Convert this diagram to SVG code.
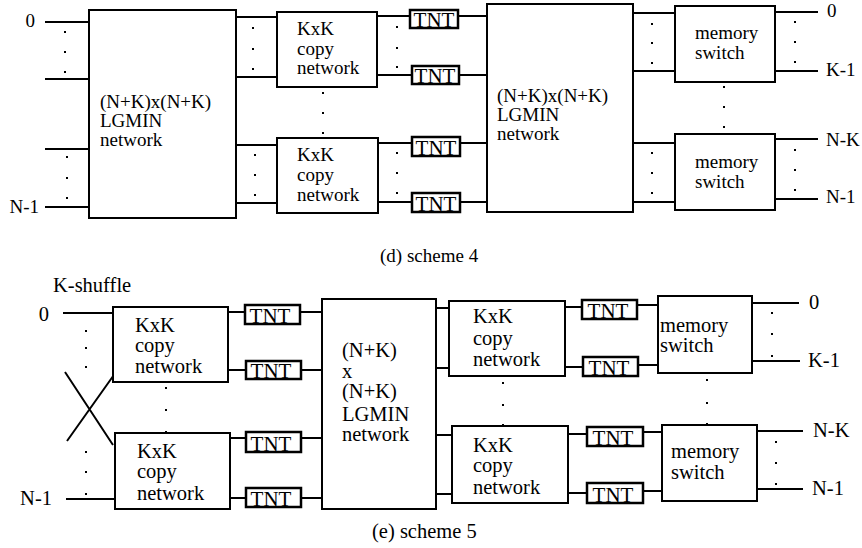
<svg xmlns="http://www.w3.org/2000/svg" width="862" height="548" viewBox="0 0 862 548">
<style>
.box{fill:#fff;stroke:#000;stroke-width:2}
.tnt{fill:#fff;stroke:#000;stroke-width:2.5}
.ln{stroke:#000;stroke-width:2;fill:none}
text{font-family:"Liberation Serif","Times New Roman",serif;fill:#000}
.a{font-size:19px}
.b{font-size:20.5px}
.tt{font-size:21px}
.dot{fill:#000}
</style>
<defs>
<g id="d3"><rect class="dot" x="-1" y="-1" width="2" height="2"/></g>
</defs>
<rect width="862" height="548" fill="#fff"/>

<!-- connectors -->
<g id="connectors" class="ln">
<!-- top scheme 4 -->
<path d="M45 22H89M45 79H89M45 149H89M45 207H89"/>
<path d="M236 17H277M236 77H277M236 145H277M236 203H277"/>
<path d="M377 16H410M377 75H412M378 143H412M378 202H412"/>
<path d="M458 16H487M459 75H487M460 143H487M460 202H487"/>
<path d="M633 13H675M633 71H675M633 143H675M633 202H675"/>
<path d="M775 12H818M775 71H818M775 139H818M775 199H818"/>
<!-- bottom scheme 5 -->
<path d="M63 313H113M66 499H115"/>
<path d="M65 372L113 445M67 441L116 372"/>
<path d="M228 312H245M228 370H246M230 438H246M230 498H246"/>
<path d="M300 312H322M301 370H322M301 438H322M301 498H322"/>
<path d="M432 308H453M432 368H453M432 435H456M432 494H456"/>
<path d="M562 307H582M562 367H583M565 434H587M565 493H587"/>
<path d="M637 305H661M638 365H662M643 432H665M643 491H665"/>
<path d="M752 303H799M752 361H800M754 431H803M754 489H803"/>
</g>

<!-- dots -->
<g id="dots">
<use href="#d3" x="65" y="32"/><use href="#d3" x="65" y="52"/><use href="#d3" x="65" y="72"/>
<use href="#d3" x="67" y="157"/><use href="#d3" x="67" y="178"/><use href="#d3" x="67" y="198"/>
<use href="#d3" x="253" y="28"/><use href="#d3" x="253" y="49"/><use href="#d3" x="253" y="69"/>
<use href="#d3" x="255" y="155"/><use href="#d3" x="255" y="175"/><use href="#d3" x="255" y="195"/>
<use href="#d3" x="323" y="93"/><use href="#d3" x="323" y="113"/><use href="#d3" x="323" y="133"/>
<use href="#d3" x="397" y="27"/><use href="#d3" x="397" y="48"/><use href="#d3" x="397" y="67"/>
<use href="#d3" x="397" y="153"/><use href="#d3" x="397" y="173"/><use href="#d3" x="397" y="193"/>
<use href="#d3" x="652" y="24"/><use href="#d3" x="652" y="43"/><use href="#d3" x="652" y="63"/>
<use href="#d3" x="652" y="153"/><use href="#d3" x="652" y="173"/><use href="#d3" x="652" y="193"/>
<use href="#d3" x="724" y="87"/><use href="#d3" x="724" y="107"/><use href="#d3" x="724" y="127"/>
<use href="#d3" x="795" y="22"/><use href="#d3" x="795" y="42"/><use href="#d3" x="795" y="62"/>
<use href="#d3" x="795" y="150"/><use href="#d3" x="795" y="170"/><use href="#d3" x="795" y="190"/>

<use href="#d3" x="86" y="331"/><use href="#d3" x="86" y="348"/><use href="#d3" x="86" y="367"/>
<use href="#d3" x="86" y="452"/><use href="#d3" x="86" y="472"/><use href="#d3" x="86" y="494"/>
<use href="#d3" x="166" y="388"/><use href="#d3" x="166" y="410"/><use href="#d3" x="166" y="432"/>
<use href="#d3" x="503" y="383"/><use href="#d3" x="503" y="405"/><use href="#d3" x="503" y="425"/>
<use href="#d3" x="707" y="380"/><use href="#d3" x="707" y="403"/><use href="#d3" x="707" y="424"/>
<use href="#d3" x="772" y="313"/><use href="#d3" x="772" y="334"/><use href="#d3" x="772" y="356"/>
<use href="#d3" x="776" y="442"/><use href="#d3" x="776" y="463"/><use href="#d3" x="776" y="484"/>
</g>

<!-- labels -->
<g id="labels-top" class="a">
<text x="35" y="27" text-anchor="end">0</text>
<text x="39" y="213" text-anchor="end">N-1</text>
<text x="827" y="17">0</text>
<text x="826" y="76">K-1</text>
<text x="826" y="146">N-K</text>
<text x="826" y="203">N-1</text>
<text x="380" y="262">(d) scheme 4</text>
</g>
<g id="labels-bottom" class="b">
<text x="53" y="292">K-shuffle</text>
<text x="49" y="321" text-anchor="end">0</text>
<text x="52" y="505" text-anchor="end">N-1</text>
<text x="809" y="309">0</text>
<text x="808" y="367">K-1</text>
<text x="813" y="437">N-K</text>
<text x="812" y="495">N-1</text>
<text x="372" y="538">(e) scheme 5</text>
</g>

<!-- scheme 4 nodes -->
<g id="lgmin1">
<rect class="box" x="89" y="10" width="147" height="208"/>
<text class="a" x="100" y="108">(N+K)x(N+K)</text>
<text class="a" x="100" y="127">LGMIN</text>
<text class="a" x="100" y="146">network</text>
</g>
<g id="copy1">
<rect class="box" x="277" y="12" width="100" height="75"/>
<text class="a" x="297" y="35">KxK</text>
<text class="a" x="297" y="55">copy</text>
<text class="a" x="297" y="74">network</text>
</g>
<g id="copy2">
<rect class="box" x="277" y="138" width="101" height="75"/>
<text class="a" x="297" y="161">KxK</text>
<text class="a" x="297" y="181">copy</text>
<text class="a" x="297" y="201">network</text>
</g>
<g id="tnt1"><rect class="tnt" x="410" y="10" width="48" height="18"/><text class="tt" x="434" y="27" text-anchor="middle">TNT</text></g>
<g id="tnt2"><rect class="tnt" x="412" y="66" width="47" height="18"/><text class="tt" x="435" y="83" text-anchor="middle">TNT</text></g>
<g id="tnt3"><rect class="tnt" x="412" y="137" width="48" height="19"/><text class="tt" x="436" y="155" text-anchor="middle">TNT</text></g>
<g id="tnt4"><rect class="tnt" x="412" y="193" width="48" height="19"/><text class="tt" x="436" y="211" text-anchor="middle">TNT</text></g>
<g id="lgmin2">
<rect class="box" x="487" y="4" width="146" height="208"/>
<text class="a" x="497" y="102">(N+K)x(N+K)</text>
<text class="a" x="497" y="121">LGMIN</text>
<text class="a" x="497" y="140">network</text>
</g>
<g id="mem1">
<rect class="box" x="675" y="6" width="100" height="76"/>
<text class="a" x="695" y="39">memory</text>
<text class="a" x="695" y="59">switch</text>
</g>
<g id="mem2">
<rect class="box" x="675" y="134" width="100" height="76"/>
<text class="a" x="695" y="168">memory</text>
<text class="a" x="695" y="188">switch</text>
</g>

<!-- scheme 5 nodes -->
<g id="copy3">
<rect class="box" x="113" y="307" width="115" height="75"/>
<text class="b" x="135" y="332">KxK</text>
<text class="b" x="135" y="352">copy</text>
<text class="b" x="135" y="373">network</text>
</g>
<g id="copy4">
<rect class="box" x="115" y="433" width="115" height="76"/>
<text class="b" x="137" y="458">KxK</text>
<text class="b" x="137" y="478">copy</text>
<text class="b" x="137" y="500">network</text>
</g>
<g id="tnt5"><rect class="tnt" x="245" y="305" width="55" height="19"/><text class="tt" x="270" y="323" text-anchor="middle">TNT</text></g>
<g id="tnt6"><rect class="tnt" x="246" y="361" width="55" height="18"/><text class="tt" x="271" y="378" text-anchor="middle">TNT</text></g>
<g id="tnt7"><rect class="tnt" x="246" y="432" width="55" height="20"/><text class="tt" x="271" y="451" text-anchor="middle">TNT</text></g>
<g id="tnt8"><rect class="tnt" x="246" y="488" width="55" height="19"/><text class="tt" x="271" y="506" text-anchor="middle">TNT</text></g>
<g id="lgmin3">
<rect class="box" x="322" y="299" width="114" height="210"/>
<text class="b" x="342" y="357">(N+K)</text>
<text class="b" x="342" y="378">x</text>
<text class="b" x="342" y="398">(N+K)</text>
<text class="b" x="342" y="421">LGMIN</text>
<text class="b" x="342" y="441">network</text>
</g>
<g id="copy5">
<rect class="box" x="449" y="301" width="116" height="75"/>
<text class="b" x="473" y="323">KxK</text>
<text class="b" x="473" y="345">copy</text>
<text class="b" x="473" y="366">network</text>
</g>
<g id="copy6">
<rect class="box" x="452" y="426" width="116" height="77"/>
<text class="b" x="473" y="452">KxK</text>
<text class="b" x="473" y="472">copy</text>
<text class="b" x="473" y="494">network</text>
</g>
<g id="tnt9"><rect class="tnt" x="582" y="300" width="55" height="19"/><text class="tt" x="608" y="318" text-anchor="middle">TNT</text></g>
<g id="tnt10"><rect class="tnt" x="583" y="357" width="55" height="19"/><text class="tt" x="609" y="375" text-anchor="middle">TNT</text></g>
<g id="tnt11"><rect class="tnt" x="587" y="427" width="56" height="19"/><text class="tt" x="613" y="445" text-anchor="middle">TNT</text></g>
<g id="tnt12"><rect class="tnt" x="587" y="483" width="56" height="20"/><text class="tt" x="613" y="502" text-anchor="middle">TNT</text></g>
<g id="mem3">
<rect class="box" x="658" y="296" width="94" height="77"/>
<text class="b" x="660" y="332">memory</text>
<text class="b" x="660" y="352">switch</text>
</g>
<g id="mem4">
<rect class="box" x="662" y="425" width="95" height="76"/>
<text class="b" x="671" y="458">memory</text>
<text class="b" x="671" y="479">switch</text>
</g>
</svg>
